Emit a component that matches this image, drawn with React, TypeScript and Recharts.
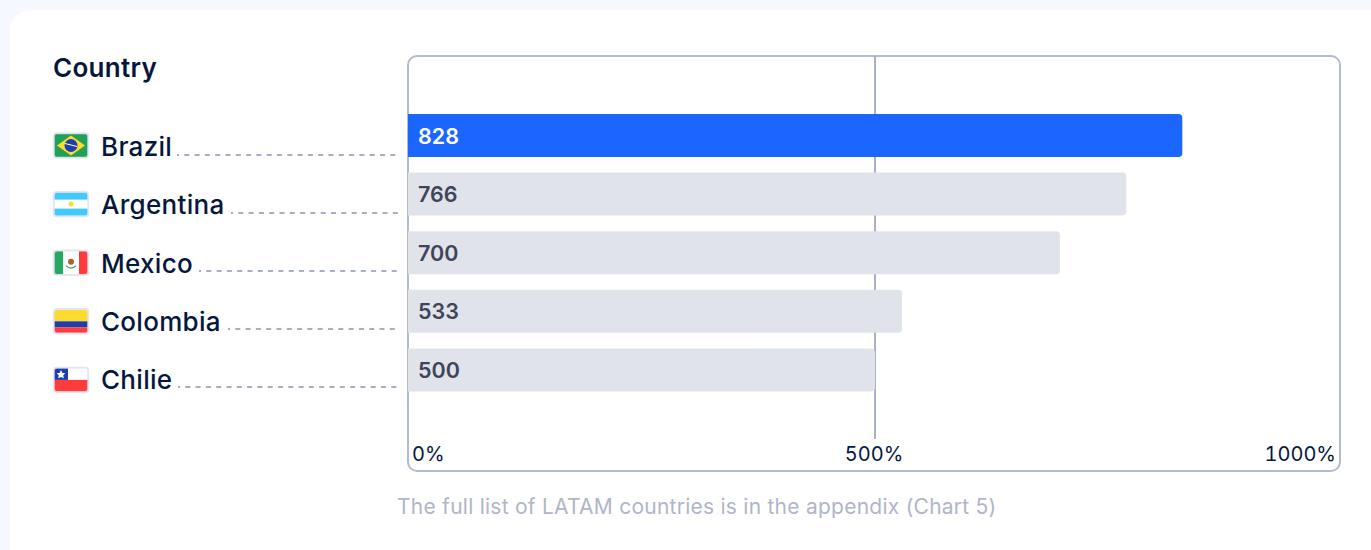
import { Bar, BarChart, CartesianGrid, Cell, LabelList, XAxis, YAxis } from "recharts";

const countries = ["Brazil", "Argentina", "Mexico", "Colombia", "Chilie"];
// printed numbers and drawn bar lengths differ slightly in the source picture
const printedValues = [828, 766, 700, 533, 500];
const barLengths = [829, 769, 698, 529, 500];
const xTicks = [0, 500, 1000];
const leaderStarts = [177, 231, 199, 228, 178];

const data = countries.map((name, i) => ({ name, value: barLengths[i], printed: printedValues[i] }));

const NAVY = "#06173d";
const BLUE = "#1a66ff";
const GREY = "#e0e3ea";
const BORDER = "#b3bbd1";

function Flag({ name, y }: { name: string; y: number }) {
  const x = 54;
  const w = 34;
  const h = 24;
  const clip = `flag-${name}`;
  let art = null;
  if (name === "Brazil") {
    art = (
      <>
        <rect x={x} y={y} width={w} height={h} fill="#22a05a" />
        <polygon points={`${x + 3},${y + h / 2} ${x + w / 2},${y + 2} ${x + w - 3},${y + h / 2} ${x + w / 2},${y + h - 2}`} fill="#ffd92b" />
        <circle cx={x + w / 2} cy={y + h / 2} r={6.5} fill="#1d3fae" />
        <path d={`M${x + w / 2 - 6} ${y + h / 2 - 2} L${x + w / 2 + 6} ${y + h / 2 + 1}`} stroke="#ffffff" strokeWidth={1} />
      </>
    );
  } else if (name === "Argentina") {
    art = (
      <>
        <rect x={x} y={y} width={w} height={h} fill="#ffffff" />
        <rect x={x} y={y} width={w} height={7.5} fill="#40c8ff" />
        <rect x={x} y={y + h - 7.5} width={w} height={7.5} fill="#40c8ff" />
        <circle cx={x + w / 2} cy={y + h / 2} r={2.5} fill="#ffd92b" />
      </>
    );
  } else if (name === "Mexico") {
    art = (
      <>
        <rect x={x} y={y} width={w} height={h} fill="#ffffff" />
        <rect x={x} y={y} width={9} height={h} fill="#25a85f" />
        <rect x={x + w - 9} y={y} width={9} height={h} fill="#ff3b3b" />
        <circle cx={x + w / 2} cy={y + h / 2 - 1} r={3} fill="#a8642c" />
        <path d={`M${x + w / 2 - 5} ${y + h / 2 + 3} Q${x + w / 2} ${y + h / 2 + 8} ${x + w / 2 + 5} ${y + h / 2 + 3}`} fill="none" stroke="#25a85f" strokeWidth={1.2} />
      </>
    );
  } else if (name === "Colombia") {
    art = (
      <>
        <rect x={x} y={y} width={w} height={12} fill="#ffd92b" />
        <rect x={x} y={y + 12} width={w} height={6} fill="#1d3fae" />
        <rect x={x} y={y + 18} width={w} height={6} fill="#ff3b3b" />
      </>
    );
  } else {
    art = (
      <>
        <rect x={x} y={y} width={w} height={12} fill="#ffffff" />
        <rect x={x} y={y + 12} width={w} height={12} fill="#ff3b3b" />
        <rect x={x} y={y} width={14} height={12} fill="#1d3fae" />
        <polygon
          points={`${x + 7},${y + 2} ${x + 8.4},${y + 5} ${x + 11.4},${y + 5.4} ${x + 9.2},${y + 7.4} ${x + 9.8},${y + 10.4} ${x + 7},${y + 9} ${x + 4.2},${y + 10.4} ${x + 4.8},${y + 7.4} ${x + 2.6},${y + 5.4} ${x + 5.6},${y + 5}`}
          fill="#ffffff"
        />
      </>
    );
  }
  return (
    <g>
      <clipPath id={clip}>
        <rect x={x} y={y} width={w} height={h} rx={2} />
      </clipPath>
      <g clipPath={`url(#${clip})`}>{art}</g>
      <rect x={x - 0.2} y={y - 0.2} width={w + 0.4} height={h + 0.4} rx={3} fill="none" stroke="#dfe3ee" strokeOpacity={0.85} strokeWidth={2} />
    </g>
  );
}

function CountryTick({ y, payload, index }: any) {
  const lineY = Math.round(y + 19.5 - index * 0.5);
  return (
    <g>
      <Flag name={payload.value} y={y - 1.8} />
      <text x={101} y={y + 20.7 - index * 0.25} fontSize={26} fontWeight={500} letterSpacing={0.3} fill={NAVY} fontFamily="Inter" textAnchor="start">
        {payload.value}
      </text>
      <line x1={leaderStarts[index]} x2={398} y1={lineY} y2={lineY} stroke="#a6aec8" strokeWidth={2} strokeDasharray="5 5.3" strokeDashoffset={3} />
    </g>
  );
}

function PercentTick({ x, y, payload, index }: any) {
  const anchor = index === 0 ? "start" : index === xTicks.length - 1 ? "end" : "middle";
  const dx = index === 0 ? 4 : index === xTicks.length - 1 ? -6 : -1;
  return (
    <text x={x + dx} y={y - 17} fontSize={20} fill={NAVY} fontFamily="Inter" textAnchor={anchor} style={{ fontVariantNumeric: "tabular-nums" }}>
      {payload.value}%
    </text>
  );
}

function ValueLabel({ x, y, height, value, index }: any) {
  return (
    <text x={x + 10} y={y + height / 2 + 8} fontSize={21.5} fontWeight={600} fontFamily="Inter" fill={index === 0 ? "#ffffff" : "#3f4559"}>
      {value}
    </text>
  );
}

export default function App() {
  return (
    <div style={{ position: "absolute", left: 0, top: 0, width: 1371, height: 550, overflow: "hidden", background: "#f5f8ff", fontFamily: "Inter" }}>
      <div style={{ position: "absolute", left: 10, top: 10, width: 1400, height: 600, background: "#ffffff", borderRadius: 20 }} />
      <div style={{ position: "absolute", left: 407, top: 55, width: 930, height: 413, border: `2px solid ${BORDER}`, borderRadius: 10 }} />
      <div style={{ position: "absolute", left: 53, top: 52, fontSize: 26, fontWeight: 600, letterSpacing: 0.3, color: NAVY, lineHeight: "32px" }}>Country</div>
      <div style={{ position: "absolute", left: 397, top: 494, fontSize: 21, letterSpacing: 0.25, color: "#b0b5c8", lineHeight: "26px", whiteSpace: "nowrap" }}>
        The full list of LATAM countries is in the appendix (Chart 5)
      </div>
      <div style={{ position: "absolute", left: 0, top: 0 }}>
        <BarChart width={1371} height={550} data={data} layout="vertical" margin={{ left: 0, right: 29, top: 56, bottom: 79 }} barSize={43}>
          <CartesianGrid horizontal={false} verticalValues={[500]} stroke="#a9b1ca" strokeWidth={2} strokeDasharray="383 100" />
          <XAxis type="number" domain={[0, 1000]} ticks={xTicks} axisLine={false} tickLine={false} height={1} tick={PercentTick} interval={0} />
          <YAxis type="category" dataKey="name" width={408} axisLine={false} tickLine={false} tick={CountryTick} padding={{ top: 50, bottom: 71 }} interval={0} />
          <Bar dataKey="value" isAnimationActive={false} radius={[0, 4, 4, 0]}>
            {data.map((d, i) => (
              <Cell key={d.name} fill={i === 0 ? BLUE : GREY} />
            ))}
            <LabelList dataKey="printed" content={ValueLabel} />
          </Bar>
        </BarChart>
      </div>
    </div>
  );
}
